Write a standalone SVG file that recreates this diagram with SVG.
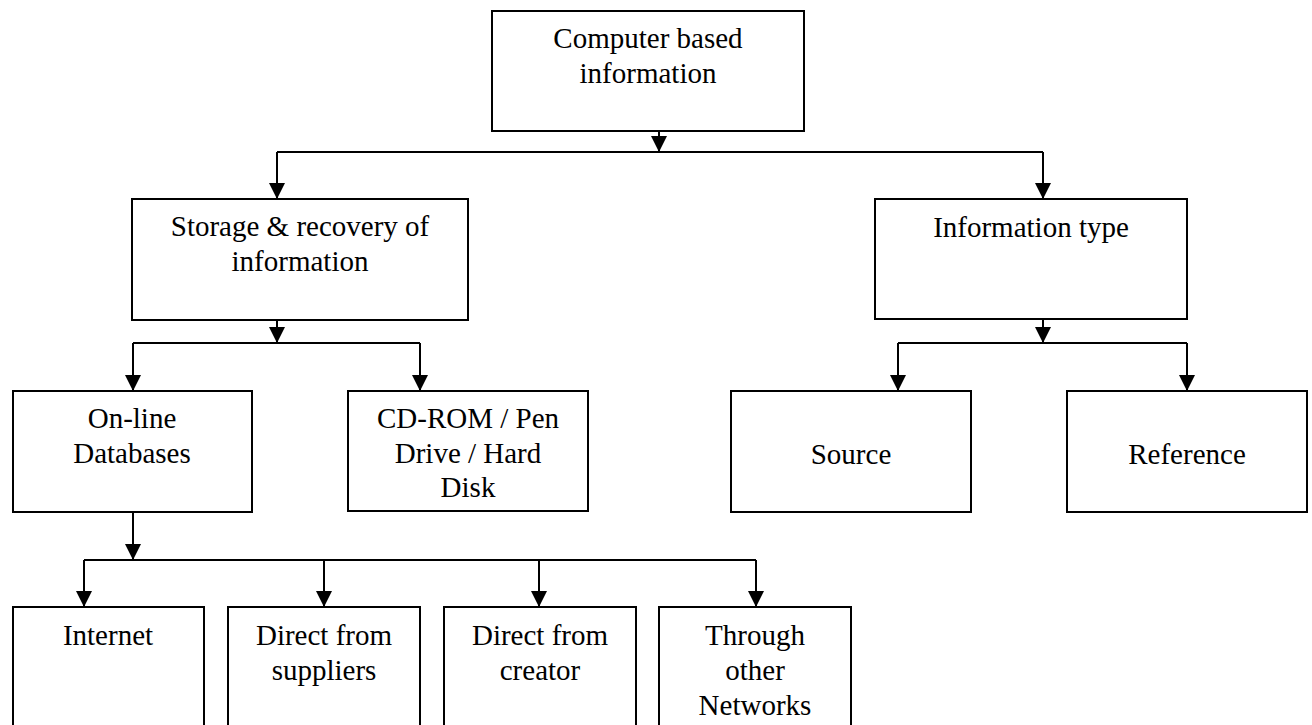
<svg xmlns="http://www.w3.org/2000/svg" width="1312" height="725" viewBox="0 0 1312 725">
  <style>
    .box { fill: #ffffff; stroke: #000000; stroke-width: 2; }
    .lbl { font-family: "Liberation Serif", "Times New Roman", serif; font-size: 29px; fill: #000000; text-anchor: middle; }
    .wire { fill: none; stroke: #000000; stroke-width: 2; }
    .arr { fill: none; stroke: #000000; stroke-width: 2; marker-end: url(#head); }
  </style>
  <defs>
    <marker id="head" markerUnits="userSpaceOnUse" markerWidth="18" markerHeight="18" refX="16" refY="8" orient="auto">
      <path d="M0,0 L16,8 L0,16 Z" fill="#000000"/>
    </marker>
  </defs>
  <rect width="1312" height="725" fill="#ffffff"/>

  <!-- connectors -->
  <g id="connectors">
    <!-- root to level 1 -->
    <path class="arr" d="M659,131 V152"/>
    <path class="wire" d="M277,152 H1043"/>
    <path class="arr" d="M277,152 V199"/>
    <path class="arr" d="M1043,152 V199"/>
    <!-- storage branch -->
    <path class="arr" d="M277,320 V343"/>
    <path class="wire" d="M133,343 H420"/>
    <path class="arr" d="M133,343 V391"/>
    <path class="arr" d="M420,343 V391"/>
    <!-- information type branch -->
    <path class="arr" d="M1043,319 V343"/>
    <path class="wire" d="M898,343 H1187"/>
    <path class="arr" d="M898,343 V391"/>
    <path class="arr" d="M1187,343 V391"/>
    <!-- on-line databases branch -->
    <path class="arr" d="M133,512 V560"/>
    <path class="wire" d="M84,560 H756"/>
    <path class="arr" d="M84,560 V607"/>
    <path class="arr" d="M324,560 V607"/>
    <path class="arr" d="M539,560 V607"/>
    <path class="arr" d="M756,560 V607"/>
  </g>

  <g id="computer-based-information">
    <rect class="box" x="492" y="11" width="312" height="120"/>
    <text class="lbl" x="648" y="48">Computer based</text>
    <text class="lbl" x="648" y="83">information</text>
  </g>

  <g id="storage-recovery">
    <rect class="box" x="132" y="199" width="336" height="121"/>
    <text class="lbl" x="300" y="236">Storage &amp; recovery of</text>
    <text class="lbl" x="300" y="271">information</text>
  </g>

  <g id="information-type">
    <rect class="box" x="875" y="199" width="312" height="120"/>
    <text class="lbl" x="1031" y="237">Information type</text>
  </g>

  <g id="online-databases">
    <rect class="box" x="13" y="391" width="239" height="121"/>
    <text class="lbl" x="132" y="428">On-line</text>
    <text class="lbl" x="132" y="463">Databases</text>
  </g>

  <g id="cdrom-pen-drive-hard-disk">
    <rect class="box" x="348" y="391" width="240" height="120"/>
    <text class="lbl" x="468" y="428">CD-ROM / Pen</text>
    <text class="lbl" x="468" y="463">Drive / Hard</text>
    <text class="lbl" x="468" y="497">Disk</text>
  </g>

  <g id="source">
    <rect class="box" x="731" y="391" width="240" height="121"/>
    <text class="lbl" x="851" y="464">Source</text>
  </g>

  <g id="reference">
    <rect class="box" x="1067" y="391" width="240" height="121"/>
    <text class="lbl" x="1187" y="464">Reference</text>
  </g>

  <g id="internet">
    <rect class="box" x="13" y="607" width="191" height="130"/>
    <text class="lbl" x="108" y="645">Internet</text>
  </g>

  <g id="direct-from-suppliers">
    <rect class="box" x="228" y="607" width="192" height="130"/>
    <text class="lbl" x="324" y="645">Direct from</text>
    <text class="lbl" x="324" y="680">suppliers</text>
  </g>

  <g id="direct-from-creator">
    <rect class="box" x="444" y="607" width="192" height="130"/>
    <text class="lbl" x="540" y="645">Direct from</text>
    <text class="lbl" x="540" y="680">creator</text>
  </g>

  <g id="through-other-networks">
    <rect class="box" x="659" y="607" width="192" height="130"/>
    <text class="lbl" x="755" y="645">Through</text>
    <text class="lbl" x="755" y="680">other</text>
    <text class="lbl" x="755" y="715">Networks</text>
  </g>
</svg>
